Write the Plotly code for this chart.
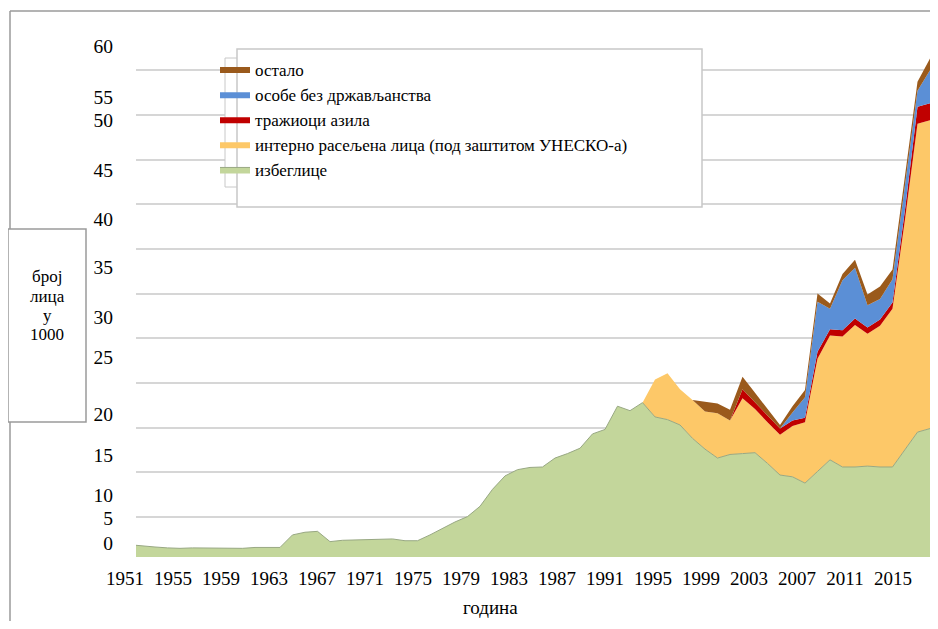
import plotly.graph_objects as go

# ---------------- data ----------------
years = list(range(1951, 2016))

refugees = [1.9, 1.75, 1.65, 1.55, 1.5, 1.55, 1.55, 1.5, 1.5, 1.5,
            1.6, 1.6, 1.6, 3.0, 3.3, 3.4, 2.25, 2.4, 2.45, 2.5,
            2.5, 2.55, 2.35, 2.35, 3.0, 3.7, 4.45, 5.05, 6.2, 8.1,
            9.6, 10.3, 10.55, 10.6, 11.6, 12.1, 12.7, 14.3, 14.8, 17.4,
            16.9, 17.8, 16.2, 15.9, 15.3, 13.8, 12.6, 11.6, 12.0, 12.1,
            12.2, 11.0, 9.7, 9.5, 8.8, 10.1, 11.4, 10.6, 10.6, 10.7,
            10.6, 10.6, 12.5, 14.5, 14.9]

idp_years = list(range(1992, 2016))
idp = [0.0, 4.2, 5.2, 4.0, 4.3, 4.2, 5.0, 3.8, 6.2, 4.9,
       4.6, 4.5, 5.7, 6.8, 12.6, 13.9, 14.6, 15.9, 14.8, 15.8,
       17.7, 25.8, 34.5, 34.5]

asylum_years = list(range(1999, 2016))
asylum = [0.0, 1.0, 0.7, 0.7, 0.7, 0.6, 0.5, 0.8, 0.7, 0.7,
          0.7, 0.7, 0.7, 0.7, 1.1, 1.9, 1.9]

stateless_years = list(range(2003, 2016))
stateless = [0.0, 0.9, 2.3, 5.6, 2.3, 5.6, 5.7, 2.5, 2.3, 2.6,
             2.6, 1.8, 3.7]

other_years = list(range(1996, 2016))
other = [0.0, 1.1, 1.1, 1.2, 1.4, 1.1, 0.8, 0.4, 0.7, 0.8,
         0.9, 0.6, 0.7, 0.9, 1.2, 1.4, 1.1, 1.0, 1.0, 1.3]

series_names = ["избеглице",
                "интерно расељена лица (под заштитом УНЕСКО-а)",
                "тражиоци азила",
                "особе без држављанства",
                "остало"]

x_tick_years = list(range(1951, 2016, 4))
x_tick_text = [str(y) for y in x_tick_years]

y_tick_text = ["60", "55", "50", "45", "40", "35", "30", "25", "20", "15", "10", "5", "0"]
# where the (hand-placed) value labels sit, in axis units
y_tick_pos = [57.65, 52.0, 49.4, 43.8, 38.3, 33.0, 27.4, 22.9, 16.5, 11.9, 7.5, 4.87, 2.05]

y_title_lines = ["број", "лица", "у", "1000"]
x_title = "година"

# ---------------- style ----------------
OFF = 8                      # page body margin
W, H = 922, 613
ML, MR, MT, MB = 128, 0, 17, 64
PW, PH = W - ML - MR, H - MT - MB
SERIF = "Liberation Serif"

fills = ["#c3d69b", "#fdc868", "#c00000", "#5b8fd6", "#9a5a1c"]
line_cols = ["#98a883", "#e0b25e", "#a00000", "#4a7abb", "#7d4716"]
line_w = [1, 0, 0, 0, 0]


def px2x(px):
    return (px - OFF - ML) / PW


def px2y(py):
    return 1 - (py - OFF - MT) / PH


fig = go.Figure()
data_sets = [(years, refugees), (idp_years, idp), (asylum_years, asylum),
             (stateless_years, stateless), (other_years, other)]
for (xs, ys), name, fc, lc, lw in zip(data_sets, series_names, fills, line_cols, line_w):
    fig.add_trace(go.Scatter(
        x=xs, y=ys, name=name, mode="lines", stackgroup="one",
        line=dict(color=lc, width=lw), fillcolor=fc, hoverinfo="x+y+name"))

# helpers so the overlay label axes get drawn
fig.add_trace(go.Scatter(x=[None], y=[None], xaxis="x2", yaxis="y",
                         showlegend=False, hoverinfo="skip"))
fig.add_trace(go.Scatter(x=[None], y=[None], xaxis="x", yaxis="y2",
                         showlegend=False, hoverinfo="skip"))

x_lo = 1951 + 6 / 12.5
y_rng = [0.53, 60.05]
fig.update_layout(
    width=W, height=H,
    margin=dict(l=ML, r=MR, t=MT, b=MB, pad=0),
    paper_bgcolor="white", plot_bgcolor="white",
    font=dict(family=SERIF, color="black"),
    showlegend=True,
    legend=dict(x=px2x(215), y=px2y(51.5), xanchor="left", yanchor="top",
                bgcolor="rgba(0,0,0,0)", borderwidth=0, traceorder="reversed",
                font=dict(family=SERIF, size=17, color="black")),
    xaxis=dict(range=[x_lo, 2015], showgrid=False, zeroline=False,
               showline=False, showticklabels=False, ticks=""),
    xaxis2=dict(overlaying="x", anchor="y", side="bottom",
                range=[1951, 1951 + PW / 12.0], tickmode="array",
                tickvals=x_tick_years, ticktext=x_tick_text,
                ticklabelshift=-11, ticklabelstandoff=8,
                showgrid=False, zeroline=False, showline=False, ticks="",
                tickfont=dict(family=SERIF, size=19, color="black")),
    yaxis=dict(range=y_rng, dtick=5, tick0=0, showgrid=True,
               gridcolor="#d6d6d6", gridwidth=1.5, zeroline=False,
               showline=False, showticklabels=False, ticks=""),
    yaxis2=dict(overlaying="y", anchor="x", side="left",
                range=y_rng, tickmode="array", tickvals=y_tick_pos,
                ticktext=y_tick_text, showgrid=False, zeroline=False,
                showline=False, ticks="", ticklabelstandoff=22,
                tickfont=dict(family=SERIF, size=19.5, color="black")),
)

shapes = [
    # outer frame (top and left edges)
    dict(type="line", xref="paper", yref="paper", x0=px2x(10), x1=px2x(938),
         y0=px2y(11), y1=px2y(11), line=dict(color="#9a9a9a", width=1.5)),
    dict(type="line", xref="paper", yref="paper", x0=px2x(10), x1=px2x(10),
         y0=px2y(11), y1=px2y(629), line=dict(color="#9a9a9a", width=1.5)),
    # y title box
    dict(type="rect", xref="paper", yref="paper", x0=px2x(8), x1=px2x(86),
         y0=px2y(229), y1=px2y(422), fillcolor="white",
         line=dict(color="#9a9a9a", width=1.5), layer="above"),
    # old legend frame behind
    dict(type="rect", xref="paper", yref="paper", x0=px2x(225), x1=px2x(420),
         y0=px2y(58), y1=px2y(187), fillcolor="white",
         line=dict(color="#c8c8c8", width=1), layer="above"),
    # legend box
    dict(type="rect", xref="paper", yref="paper", x0=px2x(237), x1=px2x(702),
         y0=px2y(49), y1=px2y(207), fillcolor="white",
         line=dict(color="#c8c8c8", width=1.5), layer="above"),
]
fig.update_layout(shapes=shapes)

annotations = []
for i, t in enumerate(y_title_lines):
    annotations.append(dict(text=t, xref="paper", yref="paper",
                            x=px2x(47), y=px2y(277 + 19 * i),
                            xanchor="center", yanchor="middle", showarrow=False,
                            font=dict(family=SERIF, size=17, color="black")))
annotations.append(dict(text=x_title, xref="paper", yref="paper",
                        x=px2x(490), y=px2y(607), xanchor="center",
                        yanchor="middle", showarrow=False,
                        font=dict(family=SERIF, size=19, color="black")))
fig.update_layout(annotations=annotations)

fig.write_html("out.html")
